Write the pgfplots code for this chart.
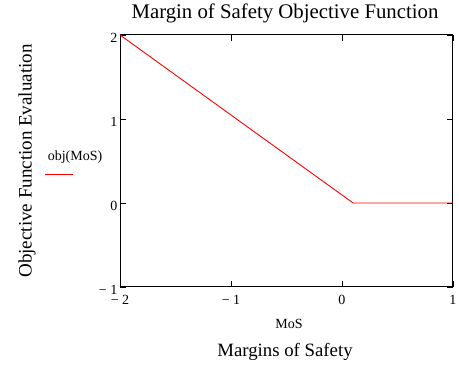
\documentclass[border=0pt]{standalone}
\usepackage{fontspec}
\setmainfont{Liberation Serif}
\usepackage{pgfplots}
\pgfplotsset{compat=1.18}
\begin{document}
\begin{tikzpicture}[x=1pt,y=1pt]
\path[use as bounding box] (0,0) rectangle (459,366);
\begin{axis}[
  at={(120pt,79pt)}, anchor=south west,
  scale only axis, width=333pt, height=252pt,
  xmin=-2, xmax=1, ymin=-1, ymax=2,
  xtick={-2,-1,0,1}, ytick={-1,0,1,2},
  xticklabels={−\ 2,−\ 1,0,1},
  yticklabels={−\ 1,0,1,2},
  tick align=inside, major tick length=6pt,
  tick style={black, line width=0.8pt},
  axis line style={black, line width=1pt},
  ticklabel style={font=\fontsize{14}{16}\selectfont},
  xticklabel style={anchor=base, inner sep=0pt, yshift=-18pt},
  yticklabel style={anchor=east, inner sep=0pt, xshift=-2.5pt, yshift=-3pt},
  /pgf/number format/assume math mode=true,
  clip=false,
]
\addplot[red, line width=0.9pt] coordinates {(-2,2) (0.1,0) (1,0)};
\end{axis}
\node[anchor=base, font=\fontsize{20.8}{24}\selectfont] at (285,347) {Margin of Safety Objective Function};
\node[anchor=base, font=\fontsize{14}{16}\selectfont] at (289,37) {MoS};
\node[anchor=base, font=\fontsize{18.8}{22}\selectfont] at (285,9) {Margins of Safety};
\node[rotate=90, anchor=center, font=\fontsize{19}{22}\selectfont] at (27,205) {Objective Function Evaluation};
\node[anchor=base, font=\fontsize{14}{16}\selectfont] at (75,205) {obj(MoS)};
\draw[red, line width=0.9pt] (45,192) -- (73,192);
\end{tikzpicture}
\end{document}
